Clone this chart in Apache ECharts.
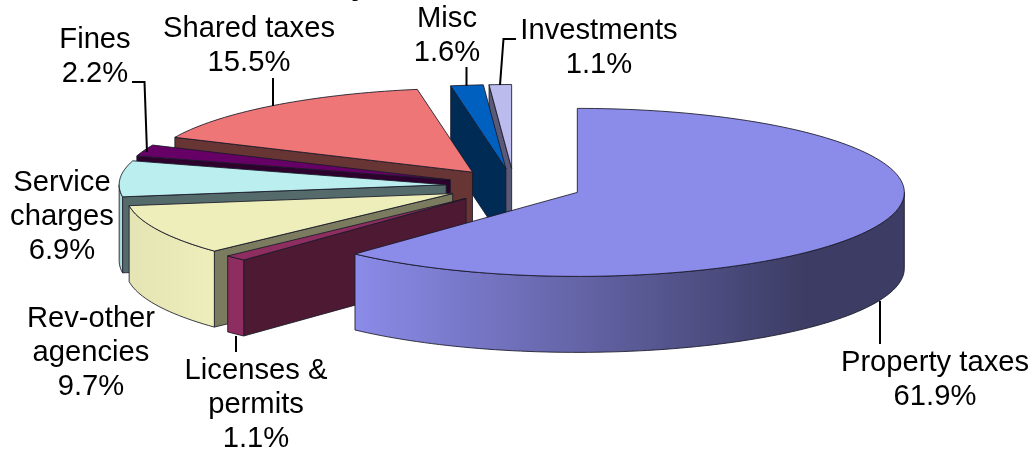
<!DOCTYPE html>
<html>
<head>
<meta charset="utf-8">
<style>
  html, body { margin: 0; padding: 0; background: #fff; }
  #chart { width: 1036px; height: 451px; }
</style>
<script src="https://cdn.jsdelivr.net/npm/echarts@6/dist/echarts.min.js"></script>
</head>
<body>
<div id="chart"></div>
<script>
// Revenue sources, clockwise from twelve o'clock
const categories = ['Property taxes', 'Licenses &\npermits', 'Rev-other\nagencies', 'Service\ncharges', 'Fines', 'Shared taxes', 'Misc', 'Investments'];
const shares = [61.9, 1.1, 9.7, 6.9, 2.2, 15.5, 1.6, 1.1];

const topColors = ['#8B8BE9', '#8E2E60', '#EEEEBB', '#BBEEEE', '#660066', '#EE7676', '#0060C0', '#BBBBEE'];
const cutColors = ['#3C3C64', '#4E1A33', '#7B7B60', '#556B6B', '#2E002E', '#683535', '#002B55', '#5A5A78'];
const rimFrom = ['#8B8BE9', '#8E2E60', '#E4E4B4', '#9FCFCF', '#660066', '#EE7676', '#0060C0', '#BBBBEE'];
const rimTo = ['#3C3C64', '#8E2E60', '#EEEEBB', '#B2E4E4', '#660066', '#EE7676', '#0060C0', '#BBBBEE'];

// Slices are painted back to front
const paintOrder = [7, 6, 5, 4, 3, 2, 1, 0];

// Label block centre and the leader line running from it to the slice
const labelCentres = [[935, 380], [256, 405], [91, 353], [62, 217], [95, 57], [249, 46], [447, 36], [599, 48]];
const leaders = [
  [[880, 301], [880, 344]],
  [[236, 336], [236, 352]],
  [],
  [],
  [[147, 152], [144.5, 82], [132, 82]],
  [[273, 106], [273, 78]],
  [[466.5, 86], [466.5, 67]],
  [[500, 85], [503.5, 39], [516, 39]]
];

// Pie geometry in page pixels
const centre = [514, 186];
const radiusX = 327;
const radiusY = 84;
const depth = 76;
const explode = 0.208;
const edge = 'rgba(25,25,40,0.85)';
const font = '"Liberation Sans", Arial, sans-serif';
const toRad = Math.PI / 180;

const starts = [];
shares.reduce((sum, v, i) => { starts[i] = sum; return sum + v; }, 0);
const total = shares.reduce((a, b) => a + b, 0);

function onRim(apex, deg) {
  return [apex[0] + radiusX * Math.sin(deg * toRad), apex[1] - radiusY * Math.cos(deg * toRad)];
}

function arcPoints(apex, from, to) {
  const pts = [];
  const steps = Math.max(4, Math.ceil(Math.abs(to - from) / 1.5));
  for (let k = 0; k <= steps; k++) pts.push(onRim(apex, from + (to - from) * k / steps));
  return pts;
}

function lowered(pts) {
  return pts.map(p => [p[0], p[1] + depth]);
}

function face(points, fill, z) {
  return {
    type: 'polygon',
    z2: z,
    shape: { points: points },
    style: { fill: fill, stroke: edge, lineWidth: 1, lineJoin: 'round' }
  };
}

function renderSlice(params, api) {
  const i = api.value(0);
  const a0 = api.value(1) / total * 360;
  const a1 = api.value(2) / total * 360;
  const mid = (a0 + a1) / 2 * toRad;
  const apex = [
    centre[0] + explode * radiusX * Math.sin(mid),
    centre[1] - explode * radiusY * Math.cos(mid)
  ];
  const children = [];

  // Cut face at the start angle, visible when it turns toward the viewer
  if (a0 > 180) {
    const rim = onRim(apex, a0);
    children.push(face([apex, rim, [rim[0], rim[1] + depth], [apex[0], apex[1] + depth]], cutColors[i], 1));
  }

  // Outer wall for the part of the rim on the near side
  const wallFrom = Math.max(a0, 90);
  const wallTo = Math.min(a1, 270);
  if (wallTo > wallFrom) {
    const arc = arcPoints(apex, wallFrom, wallTo);
    const xs = arc.map(p => p[0]);
    let x0 = Math.min.apply(null, xs);
    let x1 = Math.max.apply(null, xs);
    const fill = {
      type: 'linear', global: true,
      x: x0, y: 0, x2: i === 0 ? x0 + (x1 - x0) * 0.82 : x1, y2: 0,
      colorStops: [{ offset: 0, color: rimFrom[i] }, { offset: 1, color: rimTo[i] }]
    };
    children.push(face(arc.concat(lowered(arc).reverse()), fill, 2));
  }

  // Top surface
  children.push(face([apex].concat(arcPoints(apex, a0, a1)), topColors[i], 3));

  return { type: 'group', children: children };
}

function renderLabel(params, api) {
  const i = api.value(0);
  const at = labelCentres[i];
  const children = [{
    type: 'text',
    z2: 10,
    style: {
      x: at[0], y: at[1],
      text: categories[i] + '\n' + api.value(1).toFixed(1) + '%',
      align: 'center', verticalAlign: 'middle',
      font: '29.2px ' + font,
      lineHeight: 33.7,
      fill: '#000'
    }
  }];
  if (leaders[i].length) {
    children.push({
      type: 'polyline',
      z2: 9,
      shape: { points: leaders[i] },
      style: { fill: 'none', stroke: '#000', lineWidth: 2 }
    });
  }
  return { type: 'group', children: children };
}

const chart = echarts.init(document.getElementById('chart'), null, { renderer: 'canvas' });
chart.setOption({
  backgroundColor: '#fff',
  animation: false,
  tooltip: { show: false },
  series: [
    {
      type: 'custom',
      coordinateSystem: 'none',
      silent: true,
      renderItem: renderSlice,
      data: paintOrder.map(i => [i, starts[i], starts[i] + shares[i]])
    },
    {
      type: 'custom',
      coordinateSystem: 'none',
      silent: true,
      renderItem: renderLabel,
      data: shares.map((v, i) => [i, v])
    }
  ],
  // Tail of the heading's descender, which runs off the top of the page
  graphic: [{
    type: 'text',
    left: 351,
    top: -28,
    style: { text: 'y', font: 'bold 30px ' + font, fill: '#000' }
  }]
});
</script>
</body>
</html>
